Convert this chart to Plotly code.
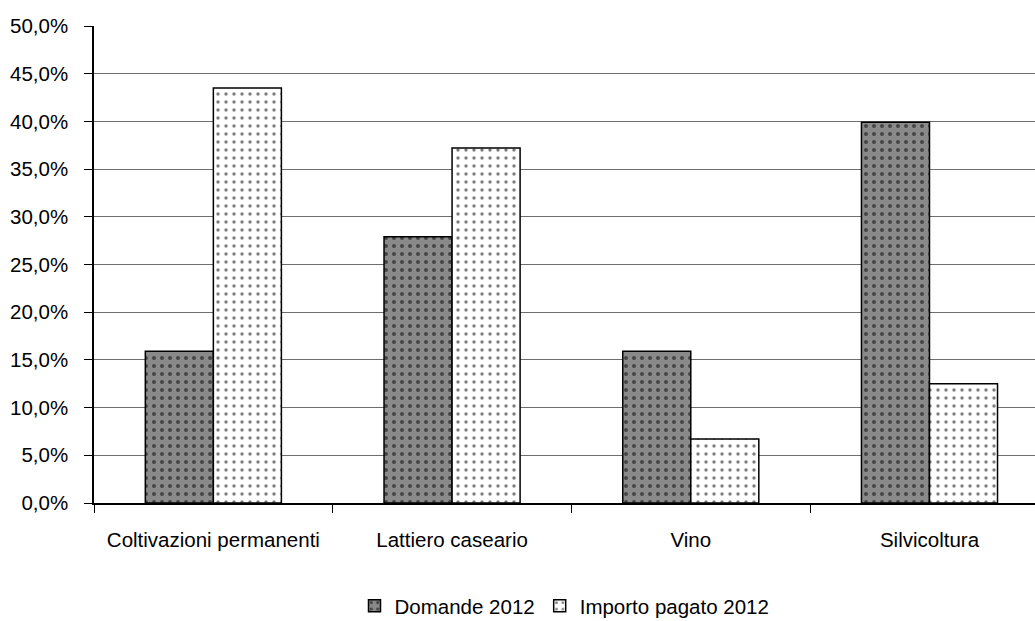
import plotly.graph_objects as go

categories = ["Coltivazioni permanenti", "Lattiero caseario", "Vino", "Silvicoltura"]
domande_2012 = [0.159, 0.279, 0.159, 0.399]
importo_2012 = [0.435, 0.372, 0.067, 0.125]
y_ticks = [0, 0.05, 0.10, 0.15, 0.20, 0.25, 0.30, 0.35, 0.40, 0.45, 0.50]

FONT = "Liberation Sans, Arial, sans-serif"

fig = go.Figure()
fig.add_trace(go.Bar(
    x=categories, y=domande_2012, name="Domande 2012",
    marker=dict(color="#8a8a8a", line=dict(color="black", width=1.5),
                pattern=dict(shape=".", fgcolor="black", bgcolor="#8a8a8a",
                             size=8, solidity=0.2)),
))
fig.add_trace(go.Bar(
    x=categories, y=importo_2012, name="Importo pagato 2012",
    marker=dict(color="white", line=dict(color="black", width=1.5),
                pattern=dict(shape=".", fgcolor="black", bgcolor="white",
                             size=8, solidity=0.15)),
))

fig.update_layout(
    width=1035, height=621,
    margin=dict(l=94, r=0, t=26, b=118, autoexpand=False),
    paper_bgcolor="white", plot_bgcolor="white",
    separators=",.",
    bargap=0.43, bargroupgap=0,
    font=dict(family=FONT, size=20.5, color="black"),
    showlegend=True,
    legend=dict(orientation="h", x=0.5, xanchor="center", y=-0.216,
                yanchor="middle", font=dict(size=20.5), itemwidth=30,
                tracegroupgap=0, bgcolor="rgba(0,0,0,0)"),
)
fig.update_xaxes(
    type="category", range=[-0.5, 3.442], automargin=False,
    tickson="boundaries", ticks="outside", ticklen=8, tickcolor="black",
    showline=True, linecolor="black", linewidth=1.5,
    showgrid=False, ticklabelstandoff=18,
)
fig.update_yaxes(
    range=[0, 0.5], tickvals=y_ticks, tickformat=".1%", automargin=False,
    ticks="outside", ticklen=8, tickcolor="black",
    showline=True, linecolor="black", linewidth=1.5,
    showgrid=True, gridcolor="#6e6e6e", gridwidth=1,
    zeroline=False, ticklabelstandoff=12,
)

fig.write_html("out.html")
